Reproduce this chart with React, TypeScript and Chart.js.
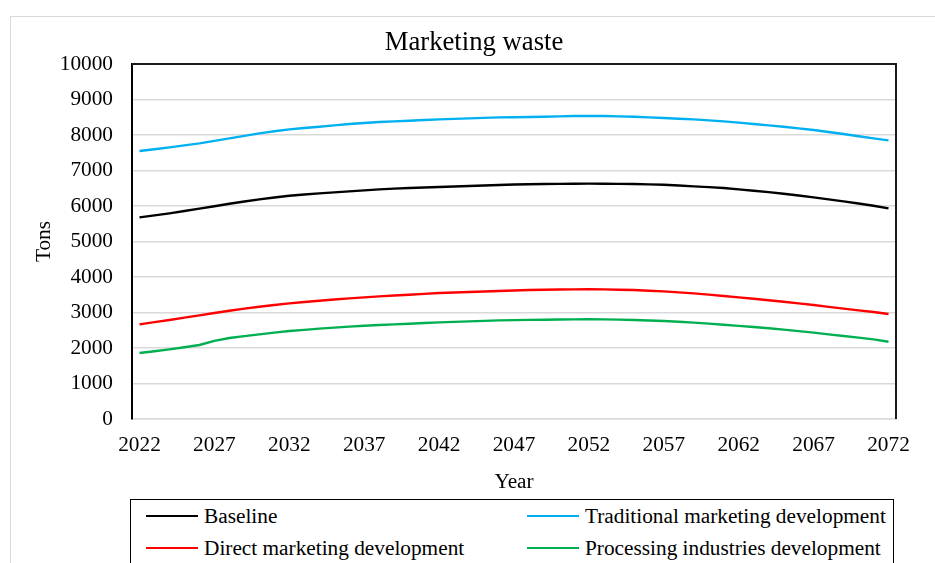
import React, { useEffect, useRef } from "react";
import { Chart, registerables } from "chart.js";

Chart.register(...registerables);

const years: string[] = [
  "2022", "2023", "2024", "2025", "2026", "2027", "2028", "2029", "2030", "2031",
  "2032", "2033", "2034", "2035", "2036", "2037", "2038", "2039", "2040", "2041",
  "2042", "2043", "2044", "2045", "2046", "2047", "2048", "2049", "2050", "2051",
  "2052", "2053", "2054", "2055", "2056", "2057", "2058", "2059", "2060", "2061",
  "2062", "2063", "2064", "2065", "2066", "2067", "2068", "2069", "2070", "2071",
  "2072",
];

const baseline: number[] = [
  5680, 5737, 5794, 5860, 5925, 5995, 6065, 6127, 6188, 6240,
  6291, 6324, 6357, 6385, 6413, 6442, 6470, 6489, 6507, 6521,
  6535, 6549, 6563, 6578, 6592, 6605, 6613, 6620, 6625, 6629,
  6631, 6629, 6625, 6620, 6611, 6601, 6578, 6554, 6531, 6507,
  6470, 6432, 6390, 6347, 6296, 6244, 6188, 6131, 6070, 6009,
  5935,
];

const traditional: number[] = [
  7549, 7600, 7653, 7710, 7765, 7835, 7906, 7977, 8047, 8105,
  8160, 8198, 8235, 8272, 8310, 8338, 8366, 8385, 8404, 8422,
  8441, 8455, 8469, 8483, 8497, 8500, 8508, 8516, 8525, 8535,
  8537, 8535, 8526, 8516, 8498, 8479, 8460, 8441, 8413, 8385,
  8348, 8310, 8272, 8235, 8188, 8141, 8085, 8028, 7967, 7906,
  7850,
];

const direct: number[] = [
  2667, 2728, 2789, 2855, 2921, 2986, 3051, 3108, 3164, 3211,
  3258, 3296, 3333, 3366, 3399, 3427, 3455, 3479, 3502, 3526,
  3549, 3563, 3577, 3591, 3605, 3620, 3634, 3643, 3648, 3652,
  3654, 3652, 3643, 3634, 3615, 3596, 3568, 3540, 3503, 3465,
  3427, 3389, 3347, 3305, 3258, 3211, 3160, 3108, 3061, 3014,
  2958,
];

const processing: number[] = [
  1859, 1910, 1962, 2020, 2085, 2200, 2282, 2335, 2385, 2432,
  2479, 2512, 2545, 2573, 2601, 2625, 2648, 2667, 2685, 2704,
  2723, 2737, 2751, 2765, 2779, 2785, 2792, 2798, 2803, 2808,
  2810, 2808, 2799, 2789, 2775, 2761, 2738, 2714, 2686, 2657,
  2625, 2592, 2555, 2517, 2475, 2432, 2385, 2338, 2291, 2244,
  2178,
];

const seriesNames: string[] = [
  "Baseline",
  "Traditional marketing development",
  "Direct marketing development",
  "Processing industries development",
];
const seriesColors: string[] = ["#000000", "#00b0f0", "#ff0000", "#00b050"];

const FONT = "'Liberation Serif', 'Times New Roman', serif";
const FS = 21.3;

const plotFrame = {
  id: "plotFrame",
  afterDraw(chart: any) {
    const { ctx, chartArea } = chart;
    ctx.save();
    ctx.strokeStyle = "#1a1a1a";
    ctx.lineWidth = 2;
    ctx.beginPath();
    ctx.moveTo(chartArea.left, chartArea.top);
    ctx.lineTo(chartArea.right, chartArea.top);
    ctx.lineTo(chartArea.right, chartArea.bottom);
    ctx.stroke();
    ctx.restore();
  },
};

function LegendItem({ name, color, x, y }: { name: string; color: string; x: number; y: number }) {
  return (
    <div style={{ position: "absolute", left: x, top: y - 14, height: 28, display: "flex", alignItems: "center" }}>
      <div style={{ width: 52, height: 2.5, background: color, marginRight: 6 }} />
      <span style={{ fontFamily: FONT, fontSize: FS, color: "#000", whiteSpace: "nowrap" }}>{name}</span>
    </div>
  );
}

export default function App() {
  const canvasRef = useRef<HTMLCanvasElement | null>(null);

  useEffect(() => {
    const canvas = canvasRef.current;
    if (!canvas) return;
    const data = [baseline, traditional, direct, processing];
    const chart = new Chart(canvas, {
      type: "line",
      data: {
        labels: years,
        datasets: data.map((d, i) => ({
          label: seriesNames[i],
          data: d,
          borderColor: seriesColors[i],
          backgroundColor: seriesColors[i],
          borderWidth: 2.4,
          pointRadius: 0,
          tension: 0,
          fill: false,
        })),
      },
      options: {
        animation: false,
        responsive: false,
        layout: { padding: { left: 52, right: 39, top: 0, bottom: 64 } },
        plugins: {
          legend: { display: false },
          tooltip: { enabled: false },
          title: {
            display: true,
            text: "Marketing waste",
            color: "#000",
            font: { family: FONT, size: 26.7, weight: "normal" },
            padding: { top: 27, bottom: 5 },
          },
        },
        scales: {
          x: {
            type: "category",
            offset: true,
            grid: { display: false, drawTicks: false },
            border: { display: true, color: "#d9d9d9", width: 1.5 },
            ticks: {
              autoSkip: false,
              maxRotation: 0,
              minRotation: 0,
              padding: 14,
              color: "#000",
              font: { family: FONT, size: FS },
              callback: (_v: any, i: number) => (i % 5 === 0 ? years[i] : ""),
            },
            title: {
              display: true,
              text: "Year",
              color: "#000",
              font: { family: FONT, size: FS },
              padding: { top: 0, bottom: 4 },
            },
            afterFit: (scale: any) => {
              scale.height = 80;
            },
          },
          y: {
            min: 0,
            max: 10000,
            grid: { display: true, color: "#d9d9d9", lineWidth: 1.5, drawTicks: false },
            border: { display: true, color: "#000", width: 2 },
            ticks: {
              stepSize: 1000,
              padding: 19,
              color: "#000",
              font: { family: FONT, size: FS },
              callback: (v: any) => String(v),
            },
            title: {
              display: true,
              text: "Tons",
              color: "#000",
              font: { family: FONT, size: FS },
              padding: { top: -20, bottom: 0 },
            },
            afterFit: (scale: any) => {
              scale.width = 80;
            },
          },
        },
      },
      plugins: [plotFrame],
    });
    return () => chart.destroy();
  }, []);

  return (
    <div style={{ position: "absolute", left: 0, top: 0, width: 935, height: 563, overflow: "hidden", background: "#fff" }}>
      <div style={{ position: "absolute", left: 10, top: 16, width: 960, height: 600, border: "1px solid #d9d9d9", boxSizing: "border-box" }} />
      <canvas ref={canvasRef} width={935} height={563} style={{ position: "absolute", left: 0, top: 0, width: 935, height: 563 }} />
      <div style={{ position: "absolute", left: 130, top: 499, width: 764, height: 80, border: "1.5px solid #000", boxSizing: "border-box", background: "#fff" }} />
      <LegendItem name={seriesNames[0]} color={seriesColors[0]} x={146} y={516} />
      <LegendItem name={seriesNames[1]} color={seriesColors[1]} x={527} y={516} />
      <LegendItem name={seriesNames[2]} color={seriesColors[2]} x={146} y={548} />
      <LegendItem name={seriesNames[3]} color={seriesColors[3]} x={527} y={548} />
    </div>
  );
}
